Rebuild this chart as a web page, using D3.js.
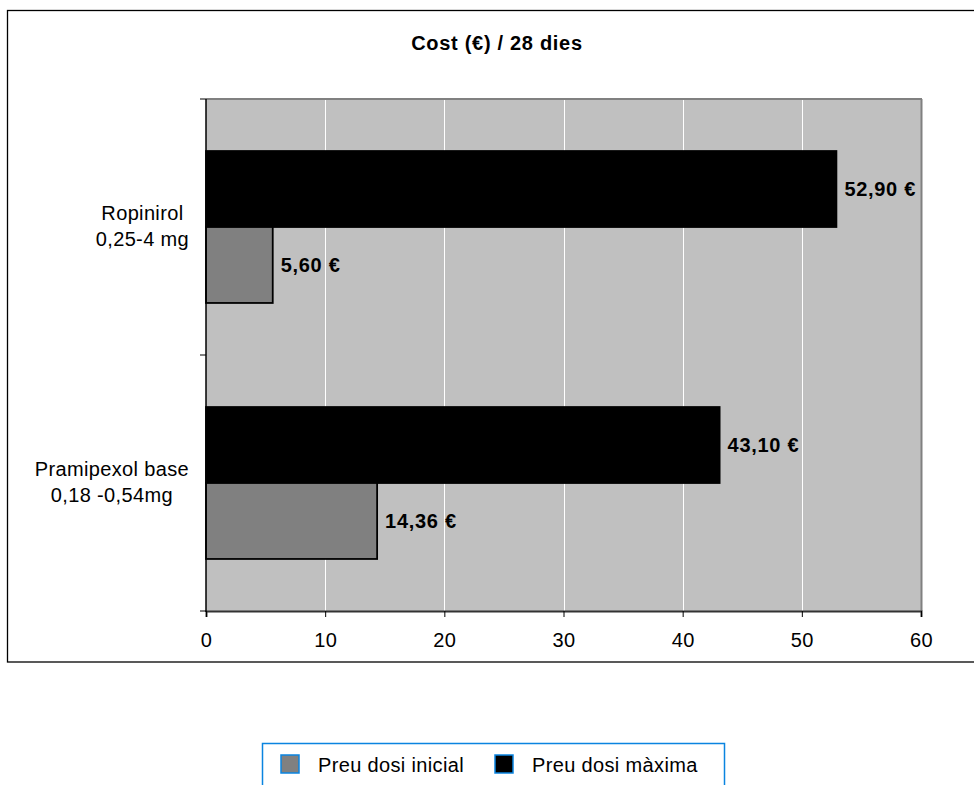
<!DOCTYPE html>
<html>
<head>
<meta charset="utf-8">
<script src="https://cdn.jsdelivr.net/npm/d3@7"></script>
<style>
  body { margin: 0; background: #fff; }
  svg { display: block; font-family: "Liberation Sans", Arial, sans-serif; }
</style>
</head>
<body>
<svg id="chart" width="974" height="785"></svg>
<script>
const title = "Cost (€) / 28 dies";
const categories = [["Ropinirol", "0,25-4 mg"], ["Pramipexol base", "0,18 -0,54mg"]];
const categoryKeys = ["Ropinirol", "Pramipexol"];
const seriesNames = ["Preu dosi màxima", "Preu dosi inicial"];
const legendNames = ["Preu dosi inicial", "Preu dosi màxima"];
const maxDose = [52.90, 43.10];
const initDose = [5.60, 14.36];
const xTicks = [0, 10, 20, 30, 40, 50, 60];
const colors = { "Preu dosi inicial": "#808080", "Preu dosi màxima": "#000000" };

const FS = 20, LS = 0.35, LSB = 0.7;
const svg = d3.select("#chart");
const plot = { left: 206, right: 921, top: 99, bottom: 611 };

// Outer frame
svg.append("rect").attr("x", 7.5).attr("y", 10.5).attr("width", 1000).attr("height", 651.5)
  .attr("fill", "#fff").attr("stroke", "#000").attr("stroke-width", 1.3);

const x = d3.scaleLinear().domain([0, 60]).range([plot.left, plot.right]);
const y = d3.scaleBand().domain(categoryKeys).range([plot.top, plot.bottom]).paddingInner(0).paddingOuter(0);
const ySub = d3.scaleBand().domain(seriesNames).range([0, y.bandwidth()]).paddingInner(0).paddingOuter(0.685);

// Plot background
svg.append("rect").attr("x", plot.left).attr("y", plot.top)
  .attr("width", plot.right - plot.left).attr("height", plot.bottom - plot.top)
  .attr("fill", "#c0c0c0");

// Grid
svg.append("g").selectAll("line").data(xTicks.filter(d => d > 0 && d < 60)).join("line")
  .attr("x1", d => Math.round(x(d)) + 0.5).attr("x2", d => Math.round(x(d)) + 0.5)
  .attr("y1", plot.top).attr("y2", plot.bottom)
  .attr("stroke", "#fff").attr("stroke-width", 1);

// Plot borders (top & right gray)
svg.append("line").attr("x1", plot.left).attr("x2", plot.right + 1).attr("y1", plot.top).attr("y2", plot.top)
  .attr("stroke", "#808080").attr("stroke-width", 2);
svg.append("line").attr("x1", plot.right + 0.5).attr("x2", plot.right + 0.5).attr("y1", plot.top).attr("y2", plot.bottom)
  .attr("stroke", "#808080").attr("stroke-width", 2);

// Bars
const rows = categoryKeys.map((k, i) => ({ key: k, values: [
  { s: "Preu dosi màxima", v: maxDose[i] },
  { s: "Preu dosi inicial", v: initDose[i] }
]}));

const g = svg.append("g");
rows.forEach(r => {
  r.values.forEach(d => {
    const yy = y(r.key) + ySub(d.s);
    g.append("rect")
      .attr("x", x(0)).attr("y", yy)
      .attr("width", x(d.v) - x(0)).attr("height", ySub.bandwidth())
      .attr("fill", colors[d.s]).attr("stroke", "#000").attr("stroke-width", 1.8);
    g.append("text")
      .attr("x", x(d.v) + 8).attr("y", yy + ySub.bandwidth() / 2 + 7)
      .attr("font-size", FS).attr("font-weight", "bold").attr("letter-spacing", LSB).attr("fill", "#000")
      .text(d3.format(".2f")(d.v).replace(".", ",") + " €");
  });
});

// X axis
const xAxis = d3.axisBottom(x).tickValues(xTicks).tickSize(6).tickPadding(16).tickFormat(d3.format("d"));
const xg = svg.append("g").attr("transform", `translate(0,${plot.bottom})`).call(xAxis);
xg.select(".domain").attr("stroke", "#333").attr("stroke-width", 2);
xg.selectAll(".tick line").attr("stroke", "#000");
xg.selectAll(".tick text").attr("font-size", FS).attr("letter-spacing", LS).attr("fill", "#000")
  .attr("font-family", "Liberation Sans, Arial, sans-serif");

// Y axis line and ticks at band boundaries
svg.append("line").attr("x1", plot.left).attr("x2", plot.left).attr("y1", plot.top).attr("y2", plot.bottom + 1)
  .attr("stroke", "#000").attr("stroke-width", 1.5);
const yBounds = [plot.top, y.step() + plot.top, plot.bottom];
svg.append("g").selectAll("line").data(yBounds).join("line")
  .attr("x1", plot.left - 6).attr("x2", plot.left).attr("y1", d => d).attr("y2", d => d)
  .attr("stroke", "#000").attr("stroke-width", 1);

// Category labels
categories.forEach((lines, i) => {
  const cy = y(categoryKeys[i]) + y.bandwidth() / 2;
  const widths = lines.map(l => {
    const s = svg.append("text").attr("font-size", FS).attr("letter-spacing", LS).text(l);
    const w = s.node().getComputedTextLength(); s.remove(); return w;
  });
  const maxW = d3.max(widths);
  const cx = 189 - maxW / 2;
  const t = svg.append("text").attr("font-size", FS).attr("letter-spacing", LS).attr("fill", "#000").attr("text-anchor", "middle");
  lines.forEach((l, j) => {
    t.append("tspan").attr("x", cx).attr("y", cy - 7 + j * 26).text(l);
  });
});

// Title
svg.append("text").attr("x", 497).attr("y", 50).attr("text-anchor", "middle")
  .attr("font-size", FS).attr("font-weight", "bold").attr("letter-spacing", LSB).text(title);

// Legend
svg.append("rect").attr("x", 262.5).attr("y", 743.5).attr("width", 462).attr("height", 60)
  .attr("fill", "#fff").attr("stroke", "#0a84e0").attr("stroke-width", 1.5);
const legX = [281, 495];
legendNames.forEach((n, i) => {
  svg.append("rect").attr("x", legX[i]).attr("y", 755).attr("width", 18).attr("height", 18)
    .attr("fill", colors[n]).attr("stroke", "#0a84e0").attr("stroke-width", 1.5);
  svg.append("text").attr("x", legX[i] + 37).attr("y", 772).attr("font-size", FS).attr("letter-spacing", LS)
    .attr("fill", "#000").text(n);
});
</script>
</body>
</html>
